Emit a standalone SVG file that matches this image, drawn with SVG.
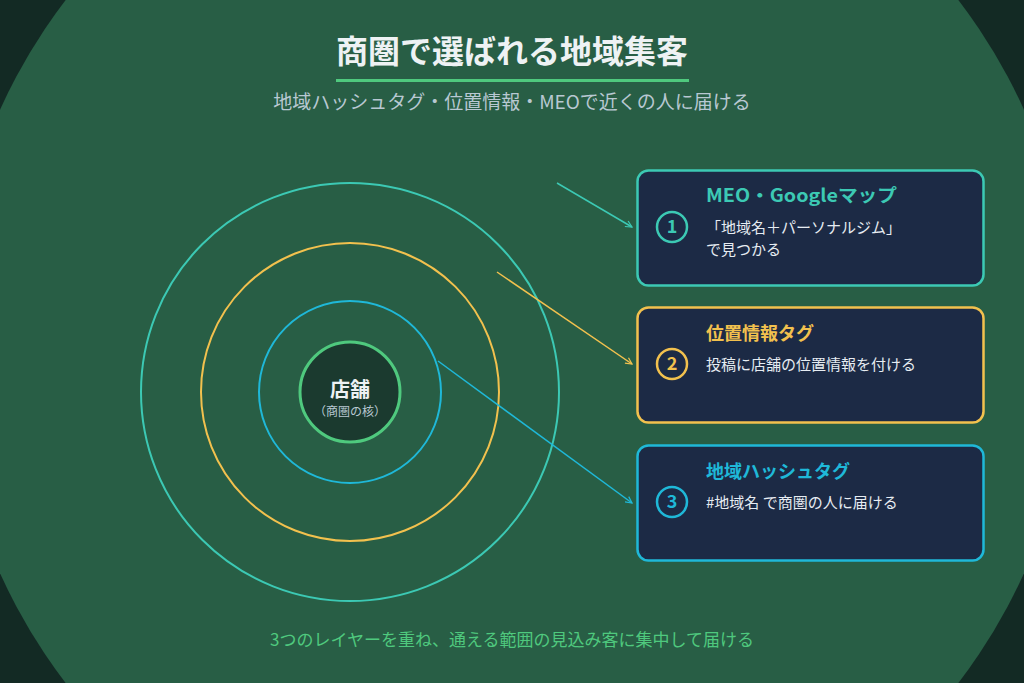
<svg xmlns="http://www.w3.org/2000/svg" width="1024" height="683" viewBox="0 0 1024 683">
<style>
text{font-family:"Noto Sans CJK JP","Noto Sans",sans-serif}
.ring{fill:none;stroke-width:2}
.box{fill:#1c2a45;stroke-width:2.5}
.bt{font-size:18px;font-weight:700}
.bd{font-size:15px;fill:#e6ecf2}
.num{font-size:18px;font-weight:700;text-anchor:middle}
.nc{fill:none;stroke-width:2.5}
.conn{fill:none;stroke-width:1.5}
</style>
<defs>
<marker id="aT" viewBox="0 0 10 10" refX="9" refY="5" markerWidth="8" markerHeight="8" orient="auto" markerUnits="userSpaceOnUse"><path d="M1,1 L9,5 L1,9" fill="none" stroke="#3cc9b4" stroke-width="1.5"/></marker>
<marker id="aY" viewBox="0 0 10 10" refX="9" refY="5" markerWidth="8" markerHeight="8" orient="auto" markerUnits="userSpaceOnUse"><path d="M1,1 L9,5 L1,9" fill="none" stroke="#f2c14e" stroke-width="1.5"/></marker>
<marker id="aC" viewBox="0 0 10 10" refX="9" refY="5" markerWidth="8" markerHeight="8" orient="auto" markerUnits="userSpaceOnUse"><path d="M1,1 L9,5 L1,9" fill="none" stroke="#1fb8d8" stroke-width="1.5"/></marker>
</defs>
<rect width="1024" height="683" fill="#132a24"/>
<circle cx="512" cy="341.5" r="562" fill="#285e45"/>

<g id="title">
<text x="512" y="63" text-anchor="middle" font-size="32" font-weight="700" fill="#eef2f4">商圏で選ばれる地域集客</text>
<rect x="336" y="79" width="353" height="3" fill="#4fc97e"/>
<text x="512" y="109" text-anchor="middle" font-size="19" fill="#b8c8d2">地域ハッシュタグ・位置情報・MEOで近くの人に届ける</text>
</g>

<g id="rings">
<circle class="ring" cx="350" cy="392" r="209" stroke="#3cc9b4"/>
<circle class="ring" cx="350" cy="392" r="149" stroke="#f2c14e"/>
<circle class="ring" cx="350" cy="392" r="91" stroke="#1fb8d8"/>
</g>

<g id="store">
<circle cx="350" cy="392" r="50" fill="#1b3a2f" stroke="#4fc97e" stroke-width="3"/>
<text x="350" y="397" text-anchor="middle" font-size="20" font-weight="700" fill="#eef2f4">店舗</text>
<text x="350" y="416" text-anchor="middle" font-size="12" fill="#b8c8d2">（商圏の核）</text>
</g>

<g id="connectors">
<line class="conn" x1="557" y1="183" x2="632" y2="227" stroke="#3cc9b4" marker-end="url(#aT)"/>
<line class="conn" x1="497" y1="272" x2="632" y2="364" stroke="#f2c14e" marker-end="url(#aY)"/>
<line class="conn" x1="438" y1="361" x2="632" y2="503" stroke="#1fb8d8" marker-end="url(#aC)"/>
</g>

<g id="box1">
<rect class="box" x="637.5" y="170.5" width="346" height="115" rx="11" stroke="#3cc9b4"/>
<circle class="nc" cx="672" cy="227" r="15" stroke="#3cc9b4"/>
<text class="num" x="672" y="233" fill="#3cc9b4">1</text>
<text class="bt" x="706" y="202" fill="#3cc9b4" textLength="191" lengthAdjust="spacingAndGlyphs">MEO・Googleマップ</text>
<text class="bd" x="706" y="233">「地域名＋パーソナルジム」</text>
<text class="bd" x="706" y="255">で見つかる</text>
</g>

<g id="box2">
<rect class="box" x="637.5" y="307.5" width="346" height="115" rx="11" stroke="#f2c14e"/>
<circle class="nc" cx="672" cy="364" r="15" stroke="#f2c14e"/>
<text class="num" x="672" y="370" fill="#f2c14e">2</text>
<text class="bt" x="706" y="340" fill="#f2c14e">位置情報タグ</text>
<text class="bd" x="706" y="370">投稿に店舗の位置情報を付ける</text>
</g>

<g id="box3">
<rect class="box" x="637.5" y="445.5" width="346" height="115" rx="11" stroke="#1fb8d8"/>
<circle class="nc" cx="672" cy="502" r="15" stroke="#1fb8d8"/>
<text class="num" x="672" y="508" fill="#1fb8d8">3</text>
<text class="bt" x="706" y="478" fill="#1fb8d8">地域ハッシュタグ</text>
<text class="bd" x="706" y="508">#地域名 で商圏の人に届ける</text>
</g>

<g id="footer">
<text x="512" y="646" text-anchor="middle" font-size="17" fill="#4fc97e">3つのレイヤーを重ね、通える範囲の見込み客に集中して届ける</text>
</g>
</svg>
